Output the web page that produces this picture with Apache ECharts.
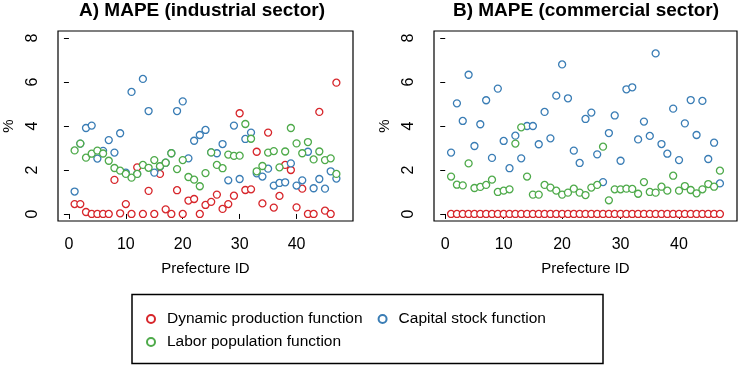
<!DOCTYPE html>
<html>
<head>
<meta charset="utf-8">
<script src="https://cdn.jsdelivr.net/npm/echarts@6/dist/echarts.min.js"></script>
<style>
  html, body { margin: 0; padding: 0; background: #fff; }
  #chart { width: 739px; height: 365px; }
</style>
</head>
<body>
<div id="chart"></div>
<script>
// prefecture IDs (x)
var prefIds = [1,2,3,4,5,6,7,8,9,10,11,12,13,14,15,16,17,18,19,20,21,22,23,24,25,26,27,28,29,30,
  31,32,33,34,35,36,37,38,39,40,41,42,43,44,45,46,47];

// A) industrial sector, MAPE %
var dynInd = [0.45,0.45,0.09,0,0,0,0,1.55,0.03,0.45,0,2.12,0,1.05,0,1.82,0.21,0,1.08,0,0.61,0.68,0,0.41,0.55,
  0.88,0.23,0.45,0.83,4.58,1.09,1.12,2.83,0.48,3.70,0.29,0.82,2.23,2.0,0.30,1.15,0,0,4.64,0.15,0,5.97];
var capInd = [1.02,3.2,3.91,4.02,2.52,2.87,3.36,2.79,3.67,1.88,5.55,1.82,6.14,4.68,1.88,2.15,2.33,2.76,4.68,5.12,
  2.53,3.33,3.59,3.82,2.80,2.76,3.18,1.53,4.02,1.59,3.41,3.70,1.85,1.70,2.06,1.29,1.41,1.44,2.30,1.29,1.53,
  2.83,1.17,1.59,1.15,1.94,1.61];
var labInd = [2.89,3.2,2.56,2.74,2.88,2.75,2.42,2.09,1.97,1.82,1.65,1.82,2.23,2.1,2.45,2.17,2.33,2.76,2.04,2.45,
  1.68,1.56,1.26,1.86,2.80,2.23,2.08,2.70,2.64,2.65,4.09,3.42,1.94,2.18,2.79,2.86,2.12,2.84,3.91,3.21,2.76,
  3.27,2.48,2.84,2.45,2.53,1.82];

// B) commercial sector, MAPE %
var dynCom = [0,0,0,0,0,0,0,0,0,0,0,0,0,0,0,0,0,0,0,0,0,0,0,0,0,0,0,0,0,0,0,0,0,0,0,0,0,0,0,0,0,0,0,0,0,0,0];
var capCom = [2.79,5.03,4.23,6.33,3.09,4.08,5.17,2.55,5.70,3.32,2.08,3.56,2.53,4.0,4.0,3.17,4.64,3.44,5.38,6.80,
  5.26,2.88,2.32,4.32,4.61,2.71,1.45,3.68,4.48,2.42,5.67,5.76,3.39,4.20,3.55,7.30,3.18,2.74,4.79,2.45,4.12,
  5.18,3.59,5.14,2.5,3.24,1.39];
var labCom = [1.70,1.33,1.30,2.30,1.18,1.23,1.32,1.56,1.0,1.06,1.12,3.20,3.94,1.70,0.88,0.88,1.32,1.2,1.06,0.88,
  0.97,1.15,0.97,0.86,1.20,1.32,3.06,0.62,1.12,1.12,1.15,1.14,0.92,1.45,1.0,0.97,1.24,1.06,1.74,1.06,1.27,
  1.09,0.94,1.12,1.36,1.24,1.97];

var xTicks = [0,10,20,30,40];
var yTicks = [0,2,4,6,8];

var names = ['Dynamic production function','Capital stock function','Labor population function'];
var colors = ['#D7262B','#3A7DB5','#4EAA4A'];
var FONT = 'Liberation Sans, Arial, Helvetica, sans-serif';

function pairs(vals) {
  return prefIds.map(function (id, i) { return [id, vals[i]]; });
}

function xAx(idx) {
  return {
    type: 'value', gridIndex: idx, min: -1.92, max: 49.92,
    name: 'Prefecture ID', nameLocation: 'middle', nameGap: 40,
    nameTextStyle: { color: '#000', fontSize: 15, fontFamily: FONT },
    axisLine: { show: false },
    splitLine: { show: false },
    axisTick: { show: true, inside: false, length: 5, customValues: xTicks, lineStyle: { color: '#000' } },
    axisLabel: { customValues: xTicks, margin: 16, color: '#000', fontSize: 16, fontFamily: FONT }
  };
}
function yAx(idx) {
  return {
    type: 'value', gridIndex: idx, min: -0.32, max: 8.32,
    name: '%', nameLocation: 'middle', nameGap: 42, nameRotate: 90,
    nameTextStyle: { color: '#000', fontSize: 15, fontFamily: FONT },
    axisLine: { show: false },
    splitLine: { show: false },
    axisTick: { show: true, inside: false, length: 5, customValues: yTicks, lineStyle: { color: '#000' } },
    axisLabel: { customValues: yTicks, rotate: 90, margin: 17, color: '#000', fontSize: 16, fontFamily: FONT }
  };
}
function sc(nameIdx, gridIdx, vals) {
  return {
    name: names[nameIdx], type: 'scatter', xAxisIndex: gridIdx, yAxisIndex: gridIdx,
    data: pairs(vals), symbol: 'circle', symbolSize: 7,
    itemStyle: { color: '#fff', borderColor: colors[nameIdx], borderWidth: 1.3, opacity: 1 },
    silent: true, z: 2 + nameIdx
  };
}

var legendText = { color: '#000', fontSize: 15.5, fontFamily: FONT, padding: [0, 0, 0, 7] };

var chart = echarts.init(document.getElementById('chart'), null, { renderer: 'canvas' });
chart.setOption({
  backgroundColor: '#fff',
  animation: false,
  textStyle: { fontFamily: FONT },
  grid: [
    { left: 51, top: 31, width: 302, height: 190, show: true, borderColor: '#000', borderWidth: 1.2, backgroundColor: 'transparent' },
    { left: 434, top: 31, width: 303, height: 190, show: true, borderColor: '#000', borderWidth: 1.2, backgroundColor: 'transparent' }
  ],
  xAxis: [xAx(0), xAx(1)],
  yAxis: [yAx(0), yAx(1)],
  legend: [
    {
      data: [names[0], names[1]], left: 146, top: 311, orient: 'horizontal',
      itemWidth: 8, itemHeight: 8, itemGap: 15, icon: 'circle', padding: 0,
      textStyle: legendText, selectedMode: false
    },
    {
      data: [names[2]], left: 146, top: 334, orient: 'horizontal',
      itemWidth: 8, itemHeight: 8, icon: 'circle', padding: 0,
      textStyle: legendText, selectedMode: false
    }
  ],
  graphic: [
    { type: 'text', x: 202, y: 11, style: { text: 'A) MAPE (industrial sector)', align: 'center', verticalAlign: 'middle', font: 'bold 19px ' + FONT, fill: '#000' } },
    { type: 'text', x: 586, y: 11, style: { text: 'B) MAPE (commercial sector)', align: 'center', verticalAlign: 'middle', font: 'bold 19px ' + FONT, fill: '#000' } },
    { type: 'rect', shape: { x: 132, y: 294.5, width: 471, height: 69 }, style: { fill: 'none', stroke: '#000', lineWidth: 1.5 } }
  ],
  series: [
    sc(0, 0, dynInd), sc(1, 0, capInd), sc(2, 0, labInd),
    sc(0, 1, dynCom), sc(1, 1, capCom), sc(2, 1, labCom)
  ]
});
</script>
</body>
</html>
